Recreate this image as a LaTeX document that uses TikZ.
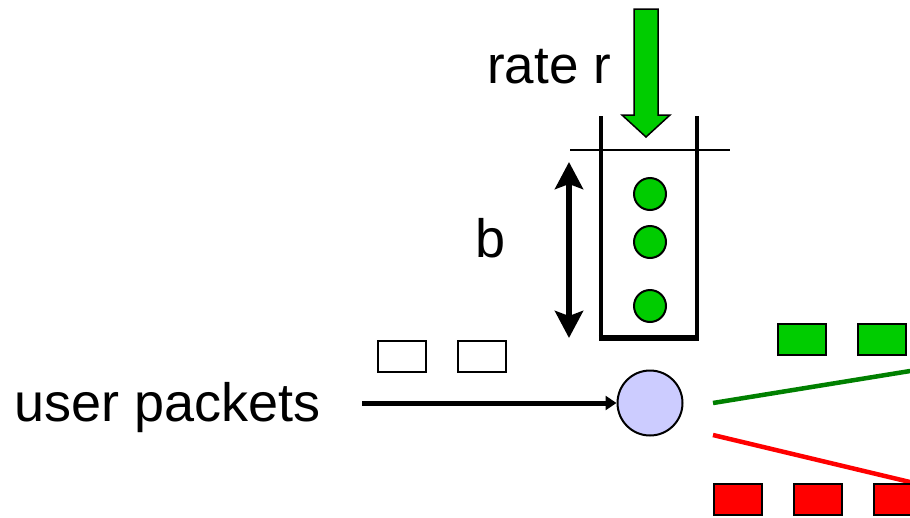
\documentclass[tikz,border=0pt]{standalone}
\usepackage{fontspec}
\setmainfont{Liberation Sans}
\usetikzlibrary{arrows.meta}
\definecolor{pktgreen}{HTML}{00CC00}
\definecolor{linegreen}{HTML}{008000}
\definecolor{lav}{HTML}{CCCCFF}
\begin{document}
\begin{tikzpicture}[x=1pt,y=-1pt,
  lbl/.style={font=\fontsize{54}{64}\selectfont, inner sep=0pt},
  pkt/.style={draw=black, line width=2pt, minimum width=48pt, minimum height=31pt, inner sep=0pt},
  token/.style={circle, draw=black, line width=2pt, fill=pktgreen, minimum size=32pt, inner sep=0pt},
  wall/.style={line width=4.5pt},
]
\useasboundingbox (0,0) rectangle (910,517);
\clip (0,0) rectangle (910,517);
% texts
\node[lbl, anchor=base, font=\fontsize{53}{63}\selectfont] (rate) at (549,83) {rate r};
\node[lbl, anchor=base] (b) at (491,257) {b};
\node[lbl, anchor=base west] (user) at (14,421) {user packets};
% green rate arrow
\path[draw=black, line width=1.5pt, fill=pktgreen]
  (634,9) -- (658,9) -- (658,115) -- (670,115) -- (646,137) -- (622,115) -- (634,115) -- cycle;
% bucket
\draw[wall] (601,116) -- (601,338);
\draw[wall] (697,116) -- (697,338);
\draw[line width=5.5pt] (598.75,338) -- (699.25,338);
\draw[line width=1.2pt] (570,150) -- (730,150);
% tokens
\node[token] (t1) at (650,194) {};
\node[token] (t2) at (650,242) {};
\node[token] (t3) at (650,306) {};
% double arrow b
\coordinate (btop) at (569,162);
\coordinate (bbot) at (569,338);
\draw[line width=6pt, {Stealth[length=27pt,width=28pt,inset=5pt]}-{Stealth[length=27pt,width=28pt,inset=5pt]}] (btop) -- (bbot);
% packets waiting
\node[pkt] (w1) at (401.5,356) {};
\node[pkt] (w2) at (481.5,356) {};
% regulator
\node[circle, draw=black, line width=2pt, fill=lav, minimum size=65pt, inner sep=0pt] (reg) at (650,403) {};
\coordinate (in) at (362,403);
\draw[line width=5pt, -{Triangle[length=11pt,width=14pt]}] (in) -- (reg.west);
% output lines
\coordinate (gs) at (713,403);
\coordinate (ge) at (912,370.7);
\coordinate (rs) at (713,435);
\coordinate (re) at (912,482.5);
\draw[linegreen, line width=4.5pt] (gs) -- (ge);
\draw[red, line width=4.5pt] (rs) -- (re);
% output packets
\node[pkt, fill=pktgreen] (g1) at (802,339) {};
\node[pkt, fill=pktgreen] (g2) at (882,339) {};
\node[pkt, fill=red] (r1) at (737.5,499.5) {};
\node[pkt, fill=red] (r2) at (817.5,499.5) {};
\node[pkt, fill=red] (r3) at (897.5,499.5) {};
\end{tikzpicture}
\end{document}
